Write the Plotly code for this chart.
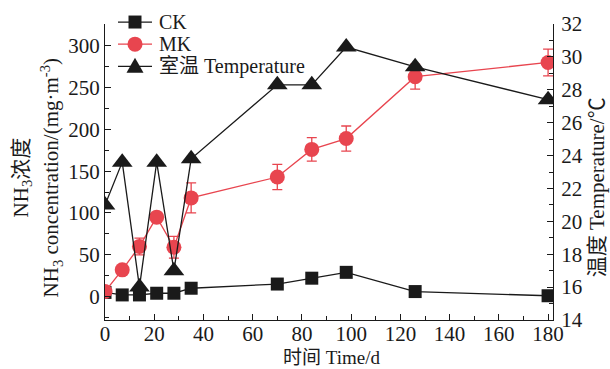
import plotly.graph_objects as go

# Sampling days
days = [0, 7, 14, 21, 28, 35, 70, 84, 98, 126, 180]

# NH3 concentration (mg/m3)
ck = [5, 2, 2, 4, 4, 10, 15, 22, 29, 6, 1]
mk = [6, 32, 60, 95, 59, 118, 143, 176, 189, 263, 280]
mk_err = [0, 0, 10, 0, 13, 18, 15, 14, 15, 15, 16]

# Room temperature (deg C)
temp = [21.0, 23.6, 16.0, 23.6, 17.0, 23.8, 28.3, 28.3, 30.6, 29.4, 27.4]

series_names = ["CK", "MK", "室温 Temperature"]

BLACK = "#1a1a1a"
RED = "#e8454f"
SERIF = "Liberation Serif, Noto Sans CJK SC, serif"

# Plot area in pixels
L, R, T, B = 105, 57, 19, 49
W, H = 610, 369
PW, PH = W - L - R, H - T - B


def px_x(px):
    return (px - L) / PW


def px_y(py):
    return (H - B - py) / PH


fig = go.Figure()
fig.add_trace(go.Scatter(
    x=days, y=ck, name=series_names[0], mode="lines+markers",
    line=dict(color=BLACK, width=1.3),
    marker=dict(symbol="square", size=13, color=BLACK),
))
fig.add_trace(go.Scatter(
    x=days, y=mk, name=series_names[1], mode="lines+markers",
    line=dict(color=RED, width=1.3),
    marker=dict(symbol="circle", size=15, color=RED),
    error_y=dict(type="data", array=mk_err, color=RED, thickness=1.3, width=5),
))
fig.add_trace(go.Scatter(
    x=days, y=temp, name=series_names[2], mode="lines+markers", yaxis="y2",
    line=dict(color=BLACK, width=1.3),
    marker=dict(symbol="triangle-up", size=18, color=BLACK),
))

axis_common = dict(
    showline=True, linecolor=BLACK, linewidth=1.3, mirror=False,
    ticks="inside", ticklen=6, tickwidth=1.2, tickcolor=BLACK,
    showgrid=False, zeroline=False,
    tickfont=dict(family=SERIF, size=21, color=BLACK),
)

fig.update_layout(
    width=W, height=H,
    margin=dict(l=L, r=R, t=T, b=B),
    plot_bgcolor="white", paper_bgcolor="white",
    font=dict(family=SERIF, color=BLACK),
    showlegend=False,
    xaxis=dict(
        range=[0, 182], dtick=20, tick0=0, ticklabelstandoff=-5,
        minor=dict(dtick=10, ticks="inside", ticklen=4, tickcolor=BLACK, tickwidth=1.1),
        **axis_common,
    ),
    yaxis=dict(
        range=[-28, 326], dtick=50, tick0=0,
        minor=dict(dtick=25, ticks="inside", ticklen=4, tickcolor=BLACK, tickwidth=1.1),
        **axis_common,
    ),
    yaxis2=dict(
        range=[14, 32], dtick=2, tick0=14, overlaying="y", side="right",
        ticklabelstandoff=3,
        minor=dict(dtick=1, ticks="inside", ticklen=4, tickcolor=BLACK, tickwidth=1.1),
        **axis_common,
    ),
)

# Legend key (line segment + marker + label) drawn in the top-left corner
legend_rows = [17, 39.5, 62]
legend_colors = [BLACK, RED, BLACK]
for name, row, col, sym in zip(series_names, legend_rows, legend_colors,
                               ["square", "circle", "triangle"]):
    yy = px_y(row)
    fig.add_shape(type="line", xref="paper", yref="paper",
                  x0=px_x(118), x1=px_x(152), y0=yy, y1=yy,
                  line=dict(color=col, width=1.3))
    common = dict(xref="paper", yref="paper", xsizemode="pixel", ysizemode="pixel",
                  xanchor=px_x(135), yanchor=yy, fillcolor=col,
                  line=dict(color=col, width=0))
    if sym == "square":
        fig.add_shape(type="rect", x0=-6.5, x1=6.5, y0=-6.5, y1=6.5, **common)
    elif sym == "circle":
        fig.add_shape(type="circle", x0=-7.5, x1=7.5, y0=-7.5, y1=7.5, **common)
    else:
        fig.add_shape(type="path", path="M -8.5 -6.5 L 8.5 -6.5 L 0 8.5 Z", **common)
    fig.add_annotation(text=name, xref="paper", yref="paper",
                       x=px_x(157), y=yy, xanchor="left", yanchor="middle",
                       showarrow=False,
                       font=dict(family=SERIF, size=20, color=BLACK))

# Axis titles
fig.add_annotation(
    text="NH<sub>3</sub>浓度", textangle=-90, xref="paper", yref="paper",
    x=px_x(22), y=px_y(175), showarrow=False, xanchor="center", yanchor="middle",
    font=dict(family=SERIF, size=21, color=BLACK),
)
fig.add_annotation(
    text="NH<sub>3</sub> concentration/(mg·m<sup>-3</sup>)", textangle=-90,
    xref="paper", yref="paper", x=px_x(51), y=px_y(176), showarrow=False,
    xanchor="center", yanchor="middle",
    font=dict(family=SERIF, size=21, color=BLACK),
)
fig.add_annotation(
    text="温度 Temperature/℃", textangle=-90, xref="paper", yref="paper",
    x=px_x(597), y=px_y(185), showarrow=False, xanchor="center", yanchor="middle",
    font=dict(family=SERIF, size=21, color=BLACK),
)
fig.add_annotation(
    text="时间 Time/d", xref="paper", yref="paper",
    x=px_x(331), y=px_y(358), showarrow=False, xanchor="center", yanchor="middle",
    font=dict(family=SERIF, size=19, color=BLACK),
)

fig.write_html("out.html")
